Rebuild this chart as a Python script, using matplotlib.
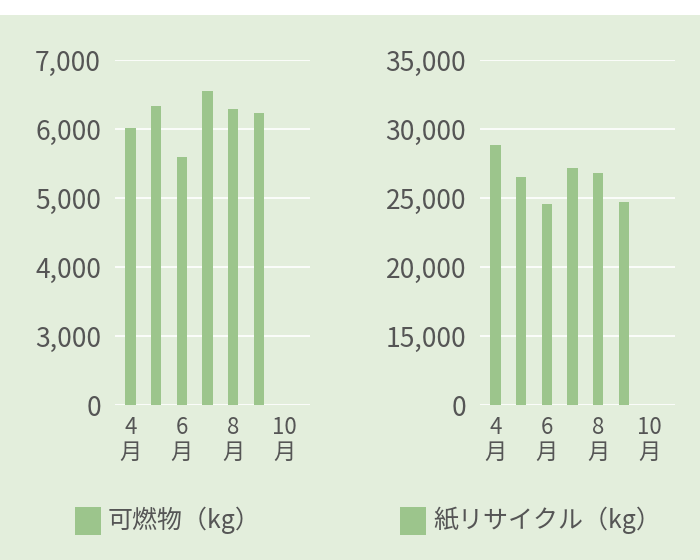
import matplotlib.pyplot as plt
from matplotlib.patches import Rectangle

plt.rcParams["font.family"] = "Noto Sans CJK JP"

# Data
months = [4, 5, 6, 7, 8, 9]
burnable = [6020, 6340, 5590, 6550, 6290, 6230]
paper = [28850, 26500, 24600, 27200, 26800, 24700]
tick_months = [4, 6, 8, 10]
tick_labels = ["4\n月", "6\n月", "8\n月", "10\n月"]

BG = "#e3eedc"
BAR = "#9cc58c"
TXT = "#555555"

fig = plt.figure(figsize=(7, 5.6), dpi=100)
fig.patch.set_facecolor("white")
fig.patches.append(Rectangle((0, 0), 1, 1 - 15 / 560, transform=fig.transFigure,
                             facecolor=BG, edgecolor="none", zorder=-10))


def panel(rect, values, ymin, ymax, step):
    # broken axis: the bottom tick stands for 0
    ax = fig.add_axes(rect)
    ax.set_facecolor(BG)
    ax.bar(months, values, width=0.4, color=BAR, zorder=3)
    ax.set_xlim(3.4, 11)
    ax.set_ylim(ymin, ymax)
    ticks = list(range(ymin, ymax + 1, step))
    ax.set_yticks(ticks)
    ax.set_yticklabels(["0"] + [f"{v:,}" for v in ticks[1:]])
    ax.set_xticks(tick_months)
    ax.set_xticklabels(tick_labels, linespacing=1.1)
    ax.grid(axis="y", color="white", linewidth=1.2, zorder=0)
    for s in ax.spines.values():
        s.set_visible(False)
    ax.tick_params(length=0, labelsize=19, colors=TXT, pad=10)
    ax.tick_params(axis="x", labelsize=16, pad=8)
    return ax


panel([115 / 700, 1 - 405 / 560, 195 / 700, 345 / 560], burnable, 2000, 7000, 1000)
panel([480 / 700, 1 - 405 / 560, 195 / 700, 345 / 560], paper, 10000, 35000, 5000)

# Legends
for x0, label in [(75, "可燃物（kg）"), (400, "紙リサイクル（kg）")]:
    fig.patches.append(Rectangle((x0 / 700, 1 - 535 / 560), 26 / 700, 28 / 560,
                                 transform=fig.transFigure, facecolor=BAR, edgecolor="none"))
    fig.text((x0 + 33) / 700, 1 - 520 / 560, label, fontsize=18, color=TXT, va="center")

fig.savefig("out.png", dpi=100, facecolor=fig.get_facecolor())
